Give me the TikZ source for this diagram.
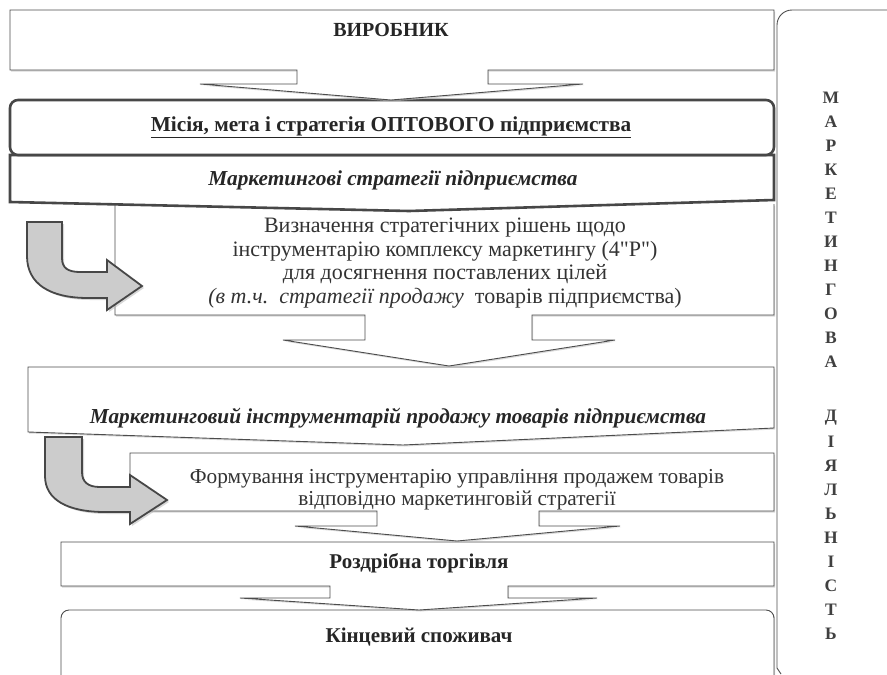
\documentclass[tikz,border=0pt]{standalone}
\usepackage{fontspec}
\setmainfont{Liberation Serif}
\newfontfamily\rawserif{Liberation Serif}
\usetikzlibrary{shadows}
\begin{document}
\begin{tikzpicture}[x=1pt,y=-1pt,
  thinbox/.style={draw=black!70, line width=0.9pt, fill=white,
    drop shadow={shadow xshift=1.2pt, shadow yshift=-1.5pt, fill=black!25, opacity=0.6}},
  heavybox/.style={draw=black!72, line width=2.6pt, fill=white},
  turnarrow/.style={draw=black!72, line width=1.8pt, fill=black!20, line join=miter,
    drop shadow={shadow xshift=2pt, shadow yshift=-2pt, fill=black!30, opacity=0.5}},
  frame/.style={draw=black!70, line width=0.9pt},
  boldtxt/.style={text=black!85, font=\fontsize{21}{24}\selectfont\bfseries},
  bitxt/.style={text=black!85, font=\fontsize{21.3}{24}\selectfont\bfseries\itshape},
  plaintxt/.style={text=black!80, align=center},
  letter/.style={text=black!75, font=\fontsize{17.5}{19}\selectfont\bfseries, inner sep=0pt}
]
\useasboundingbox (0,0) rectangle (887,675);

% right frame of the whole chain
\draw[frame, rounded corners=15] (900,10) -- (777,10) -- (777,668);
\draw[frame] (777,668) -- (781,674);

% final consumer
\draw[thinbox, rounded corners=8] (61,700) -- (61,610) -- (774,610) -- (774,700);
\node[boldtxt] (consumer) at (419,637) {Кінцевий споживач};

% retail trade (down callout)
\draw[thinbox] (61,542) -- (774,542) -- (774,586) -- (508,586) -- (508,598)
  -- (597,598) -- (419,610) -- (240,598) -- (330,598) -- (330,586) -- (61,586) -- cycle;
\node[boldtxt] (retail) at (419,563) {Роздрібна торгівля};

% sales management tools (down callout)
\draw[thinbox] (130,453) -- (774,453) -- (774,511) -- (539,511) -- (539,526)
  -- (620,526) -- (457,541) -- (295,526) -- (377,526) -- (377,511) -- (130,511) -- cycle;
\node[plaintxt, font=\fontsize{21.3}{22}\selectfont] (forming) at (457,490)
  {Формування інструментарію управління продажем товарів\\відповідно маркетинговій стратегії};

% marketing sales toolkit
\draw[thinbox] (28,367) -- (774,367) -- (774,428) -- (403,445) -- (28,432) -- cycle;
\node[bitxt] (toolkit) at (398,418) {Маркетинговий інструментарій продажу товарів підприємства};

% strategic decisions (down callout)
\draw[thinbox] (115,204) -- (115,315) -- (365,315) -- (365,340) -- (283,340)
  -- (449,366) -- (615,340) -- (532,340) -- (532,315) -- (774,315) -- (774,204);
\node[plaintxt, font=\fontsize{22}{23.4}\selectfont] (decide) at (445,263)
  {Визначення стратегічних рішень щодо\\
   інструментарію комплексу маркетингу (4{\rawserif"}Р{\rawserif"})\\
   для досягнення поставлених цілей\\
   {\itshape (в т.ч.\ \ стратегії продажу}\ \ товарів підприємства)};

% marketing strategies
\draw[heavybox] (10,155) -- (774,155) -- (774,200) -- (409,211) -- (10,202) -- cycle;
\node[bitxt] (mstrat) at (393,180) {Маркетингові стратегії підприємства};

% mission
\draw[heavybox, rounded corners=8] (10,100) rectangle (774,155);
\node[boldtxt, font=\fontsize{21.3}{24}\selectfont\bfseries] (mission) at (391,127)
  {\underline{Місія, мета і стратегія ОПТОВОГО підприємства}};

% producer (down callout)
\draw[thinbox] (10,10) -- (774,10) -- (774,70) -- (488,70) -- (488,84) -- (583,84)
  -- (391,100) -- (200,84) -- (297,84) -- (297,70) -- (10,70) -- cycle;
\node[boldtxt, font=\fontsize{20}{24}\selectfont\bfseries] (producer) at (391,30) {ВИРОБНИК};

% bent arrows
\draw[turnarrow] (27,222) -- (62,222) -- (62,258) .. controls (62,268) and (68,272) .. (80,272)
  -- (107,272) -- (107,260) -- (142,286) -- (107,310) -- (107,298) -- (88,298)
  .. controls (50,298) and (27,284) .. (27,256) -- cycle;
\draw[turnarrow] (45,437) -- (82,437) -- (82,472) .. controls (82,482) and (88,487) .. (100,487)
  -- (130,487) -- (130,475) -- (167,500) -- (130,524) -- (130,512) -- (105,512)
  .. controls (68,512) and (45,500) .. (45,476) -- cycle;

% vertical caption
\foreach \ch/\yy [count=\k] in {М/98,А/122,Р/146,К/170,Е/194,Т/218,И/242,Н/266,Г/290,О/314,В/338,А/362,
  Д/418,І/442,Я/466,Л/490,Ь/514,Н/538,І/562,С/586,Т/610,Ь/634}
  \node[letter] (v\k) at (831,\yy) {\ch};
\end{tikzpicture}
\end{document}
